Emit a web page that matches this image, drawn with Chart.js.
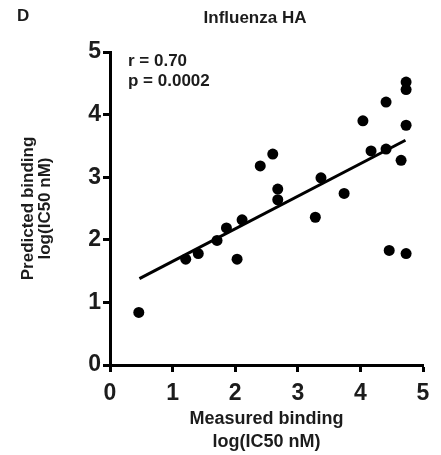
<!DOCTYPE html>
<html>
<head>
<meta charset="utf-8">
<script src="https://cdn.jsdelivr.net/npm/chart.js@4/dist/chart.umd.min.js"></script>
<style>
  html, body { margin: 0; padding: 0; background: #fff; }
</style>
</head>
<body>
<canvas id="ha-chart" width="441" height="455"></canvas>
<script>
// measured vs predicted binding, log(IC50 nM)
const measured = [0.46, 1.21, 1.41, 1.71, 1.86, 2.03, 2.11, 2.40, 2.60, 2.68, 2.68, 3.28,
  3.37, 3.74, 4.04, 4.17, 4.41, 4.41, 4.46, 4.65, 4.73, 4.73, 4.73, 4.73];
const predicted = [0.84, 1.69, 1.78, 1.99, 2.19, 1.69, 2.32, 3.18, 3.37, 2.81, 2.64, 2.36,
  2.99, 2.74, 3.90, 3.42, 3.45, 4.20, 1.83, 3.27, 4.52, 4.40, 3.83, 1.78];

// linear fit, drawn across the measured range
const fitX = [0.47, 4.72];
const fitY = [1.38, 3.59];

const xTicks = [0, 1, 2, 3, 4, 5];
const yTicks = [0, 1, 2, 3, 4, 5];

const panelLetter = 'D';
const panelTitle = 'Influenza HA';
const stats = ['r = 0.70', 'p = 0.0002'];

const FONT = '"Liberation Sans", Arial, Helvetica, sans-serif';
const INK = '#1c1c1c';

const textLayer = {
  id: 'textLayer',
  afterDraw(chart) {
    const { ctx, chartArea } = chart;
    ctx.save();
    ctx.fillStyle = INK;
    ctx.textBaseline = 'middle';
    ctx.font = `bold 17px ${FONT}`;
    ctx.textAlign = 'left';
    ctx.fillText(panelLetter, 17, 16);
    ctx.textAlign = 'center';
    ctx.fillText(panelTitle, 255, 18);
    ctx.textAlign = 'left';
    stats.forEach((s, i) => ctx.fillText(s, chartArea.left + 18, chartArea.top + 9 + i * 20));
    ctx.restore();
  }
};

const axisStyle = (ticks, fit) => ({
  type: 'linear',
  min: 0,
  max: 5,
  afterBuildTicks: s => { s.ticks = ticks.map(v => ({ value: v })); },
  afterFit: fit,
  border: { display: true, color: '#000', width: 3 },
  grid: {
    drawOnChartArea: false,
    drawTicks: true,
    tickLength: 7,
    tickWidth: 3,
    tickColor: '#000'
  },
  ticks: {
    color: INK,
    font: { family: FONT, size: 23, weight: 'bold' }
  }
});

const xAxis = axisStyle(xTicks, s => { s.height = 90; });
xAxis.ticks.padding = 8;
xAxis.title = {
  display: true,
  text: ['Measured binding', 'log(IC50 nM)'],
  color: INK,
  font: { family: FONT, size: 18, weight: 'bold', lineHeight: 1.25 },
  padding: { top: 0, bottom: 2 }
};

const yAxis = axisStyle(yTicks, s => { s.width = 110; });
yAxis.ticks.padding = 2;
yAxis.title = {
  display: true,
  text: ['Predicted binding', 'log(IC50 nM)'],
  color: INK,
  font: { family: FONT, size: 17, weight: 'bold', lineHeight: 1 },
  padding: { top: 20, bottom: 0 }
};

new Chart(document.getElementById('ha-chart'), {
  type: 'scatter',
  data: {
    datasets: [
      {
        label: 'HA peptides',
        data: measured.map((x, i) => ({ x, y: predicted[i] })),
        pointRadius: 5.5,
        pointHoverRadius: 5.5,
        backgroundColor: '#000',
        borderWidth: 0,
        clip: false
      },
      {
        label: 'fit',
        data: fitX.map((x, i) => ({ x, y: fitY[i] })),
        showLine: true,
        pointRadius: 0,
        borderColor: '#000',
        borderWidth: 3
      }
    ]
  },
  options: {
    responsive: false,
    animation: false,
    devicePixelRatio: 1,
    layout: { padding: { top: 52, right: 18, left: 0, bottom: 0 } },
    plugins: {
      legend: { display: false },
      tooltip: { enabled: false }
    },
    scales: { x: xAxis, y: yAxis }
  },
  plugins: [textLayer]
});
</script>
</body>
</html>
